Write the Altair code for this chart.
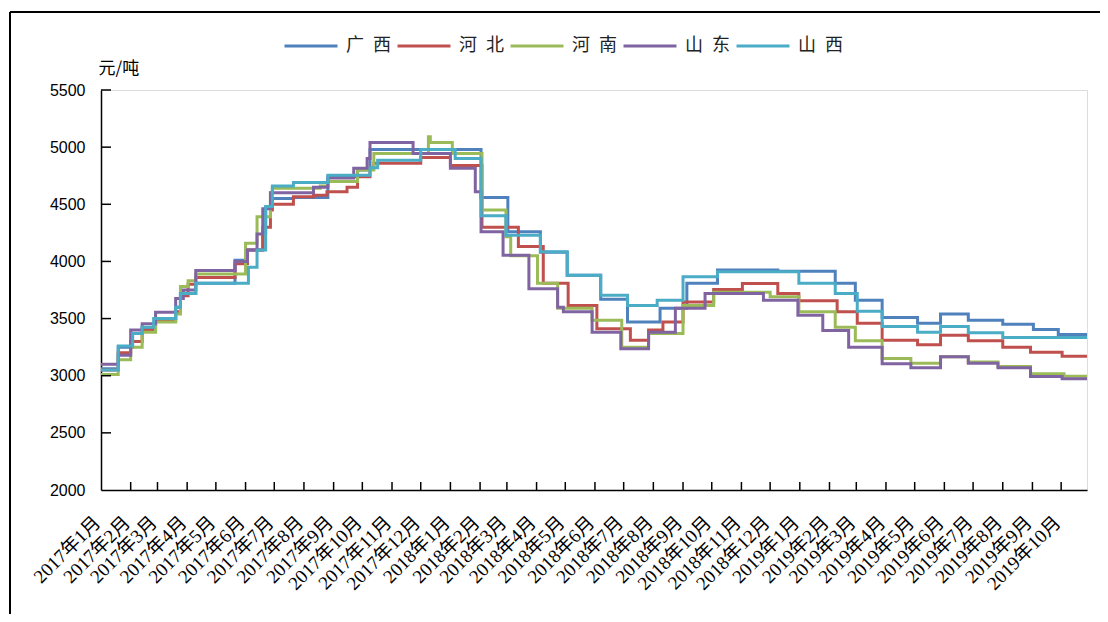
import altair as alt
import pandas as pd

series_names = ["广西", "河北", "河南", "山东", "山西"]
series_colors = ["#4F81BD", "#C0504D", "#9BBB59", "#8064A2", "#4BACC6"]
end_date = "2019-10-28"

gx_dates = ["2017-01-01", "2017-01-19", "2017-02-03", "2017-02-13", "2017-02-27", "2017-03-20", "2017-03-25",
            "2017-04-10", "2017-05-21", "2017-06-03", "2017-06-19", "2017-06-22", "2017-06-29", "2017-07-21",
            "2017-08-26", "2017-09-26", "2017-10-09", "2018-02-02", "2018-03-02", "2018-04-05", "2018-05-03",
            "2018-06-07", "2018-07-05", "2018-08-08", "2018-09-05", "2018-10-07", "2018-12-09", "2019-02-07",
            "2019-02-28", "2019-03-28", "2019-05-04", "2019-05-28", "2019-06-26", "2019-08-01", "2019-09-02",
            "2019-09-28"]
gx_values = [3060, 3250, 3370, 3420, 3500, 3600, 3720,
             3810, 4010, 4100, 4250, 4470, 4550, 4560,
             4740, 4800, 4980, 4560, 4260, 4080, 3880,
             3670, 3470, 3590, 3810, 3925, 3915, 3810,
             3660, 3510, 3460, 3540, 3485, 3450, 3405,
             3360]

hb_dates = ["2017-01-01", "2017-01-19", "2017-02-01", "2017-02-13", "2017-02-27", "2017-03-20", "2017-03-25",
            "2017-04-02", "2017-04-10", "2017-05-21", "2017-06-03", "2017-06-19", "2017-06-27", "2017-06-29",
            "2017-07-21", "2017-08-11", "2017-08-25", "2017-09-15", "2017-09-26", "2017-10-09", "2017-10-13",
            "2017-12-01", "2018-01-01", "2018-02-03", "2018-03-13", "2018-04-08", "2018-05-04", "2018-06-03",
            "2018-07-08", "2018-07-27", "2018-08-11", "2018-09-01", "2018-10-03", "2018-11-02", "2018-12-09",
            "2018-12-31", "2019-02-09", "2019-03-02", "2019-03-28", "2019-05-04", "2019-05-28", "2019-06-26",
            "2019-08-01", "2019-08-30", "2019-10-02"]
hb_values = [3050, 3200, 3300, 3400, 3480, 3560, 3700,
             3800, 3860, 3980, 4100, 4300, 4450, 4500,
             4565, 4580, 4610, 4650, 4740, 4820, 4860,
             4910, 4840, 4300, 4130, 3810, 3615, 3410,
             3310, 3400, 3470, 3645, 3755, 3806, 3720,
             3655, 3560, 3460, 3310, 3270, 3355, 3305,
             3250, 3205, 3170]

hn_dates = ["2017-01-01", "2017-01-19", "2017-02-01", "2017-02-13", "2017-02-27", "2017-03-20", "2017-03-25",
            "2017-04-02", "2017-04-10", "2017-06-01", "2017-06-13", "2017-06-27", "2017-06-29", "2017-08-18",
            "2017-08-26", "2017-09-26", "2017-10-13", "2017-12-09", "2017-12-11", "2018-01-03", "2018-02-03",
            "2018-02-28", "2018-03-05", "2018-04-02", "2018-04-23", "2018-05-29", "2018-06-29", "2018-07-27",
            "2018-09-01", "2018-10-03", "2018-12-01", "2018-12-31", "2019-02-07", "2019-02-28", "2019-03-28",
            "2019-04-27", "2019-05-28", "2019-06-26", "2019-07-27", "2019-08-30", "2019-10-04"]
hn_values = [3010, 3140, 3250, 3380, 3470, 3540, 3780,
             3830, 3890, 4160, 4390, 4600, 4640, 4660,
             4700, 4800, 4945, 5090, 5040, 4945, 4450,
             4215, 4050, 3810, 3590, 3485, 3250, 3370,
             3615, 3730, 3690, 3560, 3425, 3305, 3150,
             3110, 3165, 3120, 3080, 3017, 2995]

sd_dates = ["2017-01-01", "2017-01-19", "2017-02-01", "2017-02-13", "2017-02-27", "2017-03-20", "2017-03-28",
            "2017-04-10", "2017-05-21", "2017-06-03", "2017-06-13", "2017-06-19", "2017-06-27", "2017-08-11",
            "2017-08-26", "2017-09-22", "2017-10-06", "2017-10-09", "2017-11-23", "2018-01-01", "2018-01-27",
            "2018-02-02", "2018-02-25", "2018-03-24", "2018-04-23", "2018-04-29", "2018-05-29", "2018-06-28",
            "2018-07-27", "2018-08-24", "2018-09-24", "2018-11-24", "2018-12-30", "2019-01-25", "2019-02-21",
            "2019-03-28", "2019-04-27", "2019-05-28", "2019-06-26", "2019-07-27", "2019-08-30", "2019-10-02"]
sd_values = [3100, 3180, 3400, 3455, 3555, 3675, 3750,
             3920, 4000, 4100, 4240, 4460, 4600, 4650,
             4730, 4815, 4900, 5040, 4945, 4815, 4610,
             4260, 4055, 3760, 3600, 3560, 3380, 3235,
             3380, 3590, 3720, 3660, 3530, 3395, 3250,
             3105, 3070, 3165, 3110, 3070, 2993, 2973]

sx_dates = ["2017-01-01", "2017-01-19", "2017-02-03", "2017-02-13", "2017-02-25", "2017-03-20", "2017-03-25",
            "2017-04-10", "2017-06-04", "2017-06-13", "2017-06-22", "2017-06-29", "2017-07-21", "2017-08-26",
            "2017-10-09", "2017-10-17", "2017-12-01", "2018-01-06", "2018-02-02", "2018-02-28", "2018-04-05",
            "2018-05-03", "2018-06-07", "2018-07-05", "2018-08-05", "2018-09-01", "2018-10-07", "2018-12-31",
            "2019-02-07", "2019-03-02", "2019-03-28", "2019-05-04", "2019-05-28", "2019-06-26", "2019-08-01"]
sx_values = [3050, 3260, 3370, 3425, 3500, 3600, 3720,
             3810, 3950, 4100, 4480, 4660, 4690, 4755,
             4820, 4885, 4980, 4900, 4400, 4230, 4085,
             3880, 3705, 3615, 3660, 3865, 3910, 3810,
             3720, 3565, 3430, 3380, 3430, 3375, 3335]

y_ticks = [2000, 2500, 3000, 3500, 4000, 4500, 5000, 5500]

all_dates = [gx_dates, hb_dates, hn_dates, sd_dates, sx_dates]
all_values = [gx_values, hb_values, hn_values, sd_values, sx_values]

rows = []
for name, ds, vs in zip(series_names, all_dates, all_values):
    for d, v in zip(ds, vs):
        rows.append({"date": d, "value": v, "series": name})
    rows.append({"date": end_date, "value": vs[-1], "series": name})
df = pd.DataFrame(rows)

month_starts = pd.date_range("2017-01-01", "2019-10-01", freq="MS")
month_ms = [int(t.value // 10**6) for t in month_starts]
tick_df = pd.DataFrame({"date": [t.strftime("%Y-%m-%d") for t in month_starts[1:]]})
ytick_df = pd.DataFrame({"value": y_ticks[1:]})
one = pd.DataFrame({"a": [0]})

x_scale = alt.Scale(type="utc", domain=[alt.DateTime(year=2017, month=1, date=1, utc=True),
                                        alt.DateTime(year=2019, month=10, date=28, utc=True)])
y_scale = alt.Scale(domain=[2000, 5500], nice=False, zero=False)

x_axis = alt.Axis(values=month_ms, labelExpr="utcFormat(datum.value, '%Y年%-m月')",
                  labelAngle=-45, labelAlign="right", labelBaseline="middle",
                  labelPadding=29, labelOffset=-4, labelOverlap=False, labelFlush=False, labelBound=False,
                  labelFont="Liberation Serif, Noto Sans CJK SC", labelFontSize=19,
                  labelColor="#000000", ticks=False, tickSize=0, grid=False,
                  domainColor="#000000", domainWidth=1.5, title=None)
y_axis = alt.Axis(values=y_ticks, format="d", ticks=False, tickSize=0, grid=False, labelPadding=16,
                  labelFont="Liberation Sans", labelFontSize=16, labelColor="#000000",
                  domainColor="#000000", domainWidth=1.5,
                  title="元/吨", titleAngle=0, titleX=-3, titleY=-22, titleAlign="left",
                  titleBaseline="middle", titleFont="Noto Sans CJK SC", titleFontSize=17,
                  titleFontWeight="normal", titleColor="#000000")

lines = alt.Chart(df).mark_line(interpolate="step-after", strokeWidth=3).encode(
    x=alt.X("date:T", scale=x_scale, axis=x_axis),
    y=alt.Y("value:Q", scale=y_scale, axis=y_axis),
    color=alt.Color("series:N", scale=alt.Scale(domain=series_names, range=series_colors),
                    legend=alt.Legend(title=None, orient="none", legendX=182, legendY=-72,
                                      direction="horizontal", symbolType="stroke", symbolSize=2809,
                                      symbolStrokeWidth=3, labelFont="Noto Sans CJK SC",
                                      labelFontSize=18, labelOffset=7, columnPadding=0,
                                      labelColor="#222222",
                                      labelExpr="substring(datum.label,0,1) + '\u2002' + substring(datum.label,1)")),
)

xticks = alt.Chart(tick_df).mark_rule(color="#000000", strokeWidth=1.5).encode(
    x=alt.X("date:T", scale=x_scale, axis=x_axis), y=alt.value(400), y2=alt.value(392))
yticks = alt.Chart(ytick_df).mark_rule(color="#000000", strokeWidth=1.5).encode(
    y=alt.Y("value:Q", scale=y_scale, axis=y_axis), x=alt.value(0), x2=alt.value(10))
frame_left = alt.Chart(one).mark_rule(color="#000000", strokeWidth=2).encode(
    x=alt.value(-91), y=alt.value(-78), y2=alt.value(524))
frame_top = alt.Chart(one).mark_rule(color="#000000", strokeWidth=2).encode(
    y=alt.value(-78), x=alt.value(-91), x2=alt.value(999))

chart = alt.layer(lines, xticks, yticks, frame_left, frame_top).properties(
    width=986, height=400,
    autosize=alt.AutoSizeParams(type="none"),
    padding={"left": 93, "top": 82, "right": 13, "bottom": 124},
).configure_view(strokeWidth=0).configure(background="#ffffff")

chart.save("out.html", embed_options={"renderer": "svg", "actions": False})
